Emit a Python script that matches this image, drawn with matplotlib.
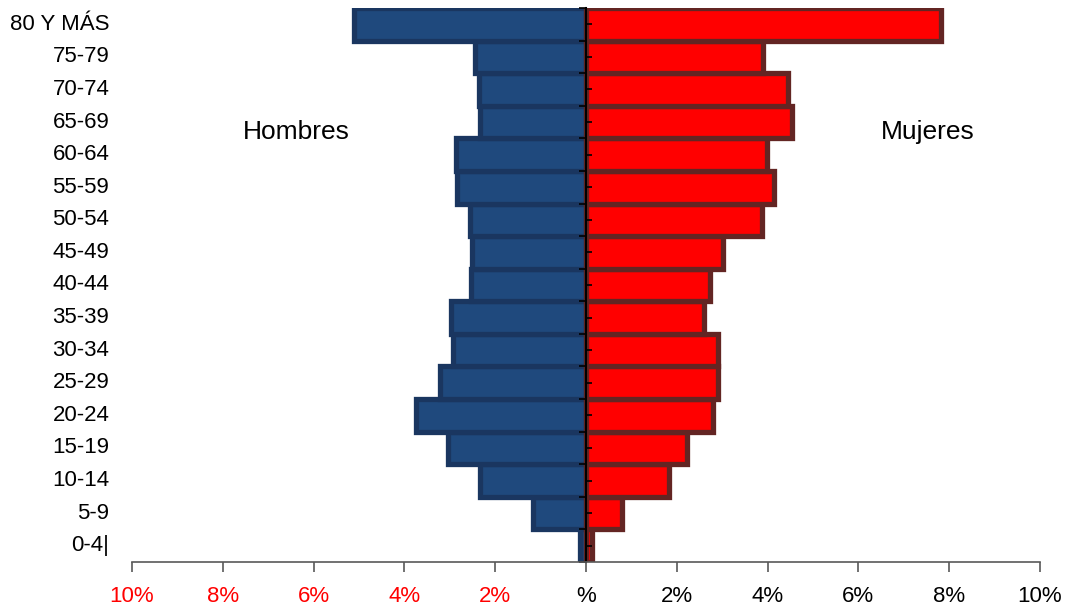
import matplotlib
matplotlib.use('Agg')
import matplotlib.pyplot as plt
import numpy as np
from matplotlib.ticker import FixedLocator

plt.rcParams['font.family'] = ['Liberation Sans', 'DejaVu Sans']

# grupos de edad, de abajo hacia arriba
grupos = ['0-4|', '5-9', '10-14', '15-19', '20-24', '25-29', '30-34', '35-39',
          '40-44', '45-49', '50-54', '55-59', '60-64', '65-69', '70-74', '75-79',
          '80 Y MÁS']
hombres = [0.13, 1.16, 2.33, 3.05, 3.74, 3.21, 2.92, 2.97,
           2.53, 2.51, 2.56, 2.85, 2.86, 2.34, 2.36, 2.44, 5.11]
mujeres = [0.14, 0.80, 1.83, 2.22, 2.79, 2.90, 2.90, 2.60,
           2.73, 3.02, 3.87, 4.13, 3.99, 4.54, 4.45, 3.89, 7.83]
xticks = [-10, -8, -6, -4, -2, 0, 2, 4, 6, 8, 10]
xlabels = ['10%', '8%', '6%', '4%', '2%', '%', '2%', '4%', '6%', '8%', '10%']

y = np.arange(len(grupos))

fig = plt.figure(figsize=(10.68, 6.06), dpi=100)
ax = fig.add_axes([132 / 1068, 1 - 562 / 606, 908 / 1068, 554 / 606])

ax.barh(y, -np.array(hombres), height=1.0, color='#1F497D', edgecolor='#1A3660', linewidth=3.8)
ax.barh(y, mujeres, height=1.0, color='#FF0000', edgecolor='#632523', linewidth=3.8)

ax.set_xlim(-10, 10)
ax.set_ylim(-0.5, len(grupos) - 0.5)

# ejes
for s in ['top', 'right']:
    ax.spines[s].set_visible(False)
ax.spines['left'].set_position(('data', 0))
ax.spines['left'].set_color('black')
ax.spines['left'].set_linewidth(1.5)
ax.spines['bottom'].set_color('#595959')
ax.spines['bottom'].set_linewidth(1.2)

ax.set_xticks(xticks)
ax.set_xticklabels(xlabels, fontsize=16)
ax.tick_params(axis='x', length=7, width=1.2, color='#595959', pad=10)
for lbl, v in zip(ax.get_xticklabels(), xticks):
    lbl.set_color('red' if v < 0 else 'black')

ax.yaxis.set_major_locator(FixedLocator(np.arange(-0.5, len(grupos), 1.0)))
ax.yaxis.set_minor_locator(FixedLocator(y))
ax.set_yticklabels([])
ax.tick_params(axis='y', which='major', direction='out', length=5, width=1.2, color='black')
ax.tick_params(axis='y', which='minor', direction='in', length=4, width=1.2, color='black')

for yi, g in zip(y, grupos):
    ax.text(-10.5, yi, g, ha='right', va='center', fontsize=16)

ax.text(-6.37, 12.69, 'Hombres', ha='center', va='center', fontsize=19)
ax.text(7.53, 12.69, 'Mujeres', ha='center', va='center', fontsize=19)

fig.savefig('out.png', dpi=100)
